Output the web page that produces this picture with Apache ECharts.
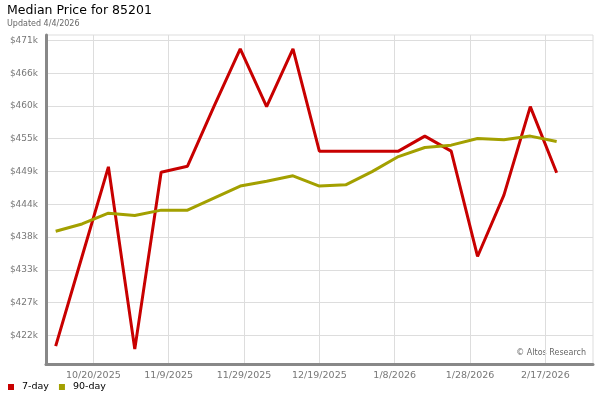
<!DOCTYPE html>
<html>
<head>
<meta charset="utf-8">
<style>
  body{ margin:0; background:#fff; }
  #main{ width:600px; height:400px; }
</style>
<script src="https://cdn.jsdelivr.net/npm/echarts@6/dist/echarts.min.js"></script>
</head>
<body>
<div id="main"></div>
<script>
// weekly dates
var dates = ['2025-10-10','2025-10-17','2025-10-24','2025-10-31','2025-11-07','2025-11-14',
  '2025-11-21','2025-11-28','2025-12-05','2025-12-12','2025-12-19','2025-12-26',
  '2026-01-02','2026-01-09','2026-01-16','2026-01-23','2026-01-30','2026-02-06',
  '2026-02-13','2026-02-20'];
var day7 = [420200,435100,450000,419700,449100,450100,460000,469600,460000,469600,
  452600,452600,452600,452600,455100,452600,435100,445300,460000,449000];
var day90 = [439300,440500,442300,441900,442800,442800,444800,446800,447600,448500,
  446800,447000,449200,451700,453200,453600,454700,454500,455100,454200];
var xTicks = ['2025-10-20','2025-11-09','2025-11-29','2025-12-19','2026-01-08','2026-01-28','2026-02-17'];
var yTicks = [422000,427444,432889,438333,443778,449222,454667,460111,465556,471000];
var legendData = ['7-day','90-day'];

function toTime(s){
  var p = s.split('-');
  return Date.UTC(+p[0], +p[1]-1, +p[2]);
}
function fmtDate(v){
  var d = new Date(v);
  return (d.getUTCMonth()+1) + '/' + d.getUTCDate() + '/' + d.getUTCFullYear();
}

var xTickTimes = xTicks.map(toTime);
var DAY = 86400000;

var myChart = echarts.init(document.getElementById('main'));
var opt = {
  animation: false,
  title: {
    text: 'Median Price for 85201',
    subtext: 'Updated 4/4/2026',
    left: 7,
    top: 4,
    padding: 0,
    itemGap: 3,
    textStyle: { fontFamily: 'DejaVu Sans', fontSize: 12.5, fontWeight: 'normal', color: '#000' },
    subtextStyle: { fontFamily: 'DejaVu Sans', fontSize: 8, color: '#666' }
  },
  legend: {
    data: legendData,
    left: 8,
    top: 382,
    padding: 0,
    icon: 'rect',
    itemWidth: 6,
    itemHeight: 6,
    itemGap: 10,
    textStyle: { fontFamily: 'DejaVu Sans', fontSize: 9.5, color: '#000', padding: [0,0,0,3] }
  },
  grid: {
    left: 46,
    right: 7,
    top: 35,
    bottom: 35.5,
    containLabel: false,
    show: true,
    borderColor: '#ddd',
    borderWidth: 1
  },
  xAxis: {
    type: 'value',
    min: toTime('2025-10-20') - 12.57*DAY,
    max: toTime('2026-02-17') + 12.65*DAY,
    axisLine: { lineStyle: { color: '#888', width: 3 } },
    axisTick: { show: false, customValues: xTickTimes },
    axisLabel: {
      customValues: xTickTimes,
      formatter: fmtDate,
      fontFamily: 'DejaVu Sans', fontSize: 9.5, color: '#777', margin: 6
    },
    splitLine: { show: true, lineStyle: { color: '#ddd', width: 1 } }
  },
  yAxis: {
    type: 'value',
    min: 417150,
    max: 471900,
    axisLine: { show: true, lineStyle: { color: '#888', width: 3 } },
    axisTick: { show: false, customValues: yTicks },
    axisLabel: {
      customValues: yTicks,
      formatter: function(v){ return '$' + Math.round(v/1000) + 'k'; },
      fontFamily: 'DejaVu Sans', fontSize: 9, color: '#777', margin: 8
    },
    splitLine: { show: true, lineStyle: { color: '#ddd', width: 1 } }
  },
  graphic: [{
    type: 'text',
    right: 14,
    top: 349,
    style: { text: '\u00a9 Altos Research', fontFamily: 'DejaVu Sans', fontSize: 8, fill: '#666' }
  }],
  series: [
    {
      name: legendData[0],
      type: 'line',
      showSymbol: false,
      color: '#c80000',
      lineStyle: { width: 3, color: '#c80000' },
      data: dates.map(function(d,i){ return [toTime(d), day7[i]]; })
    },
    {
      name: legendData[1],
      type: 'line',
      showSymbol: false,
      color: '#a3a000',
      lineStyle: { width: 3, color: '#a3a000' },
      data: dates.map(function(d,i){ return [toTime(d), day90[i]]; })
    }
  ]
};
myChart.setOption(opt);
</script>
</body>
</html>
